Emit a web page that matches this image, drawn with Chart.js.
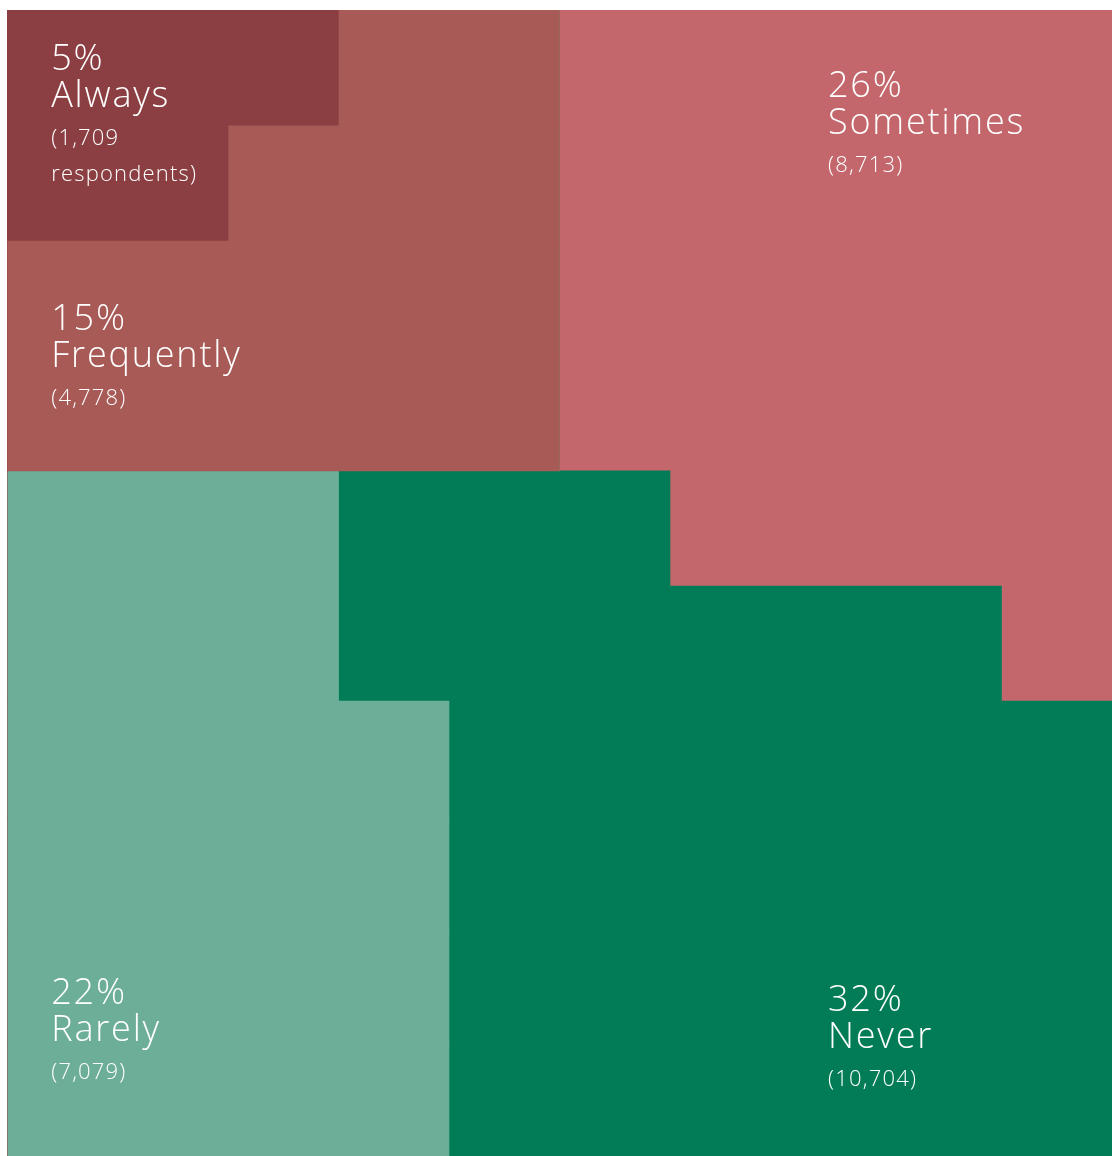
<!DOCTYPE html>
<html>
<head>
<meta charset="utf-8">
<script src="https://cdn.jsdelivr.net/npm/chart.js@4"></script>
<style>
  html, body { margin: 0; padding: 0; background: #ffffff; overflow: hidden; }
  #wrap { width: 1117px; height: 1170px; }
</style>
</head>
<body>
<div id="wrap"><canvas id="waffle"></canvas></div>
<script>
// 10 x 10 waffle: each row is one horizontal stacked bar, each unit = one cell
const rows = ['r1', 'r2', 'r3', 'r4', 'r5', 'r6', 'r7', 'r8', 'r9', 'r10'];

const categories = ['Always', 'Frequently', 'Rarely', 'Never', 'Sometimes'];
const percents = [5, 15, 22, 32, 26];
const respondents = [1709, 4778, 7079, 10704, 8713];

// cells per row for each answer (stack order left to right)
const alwaysCells     = [3, 2, 0, 0, 0, 0, 0, 0, 0, 0];
const frequentlyCells = [2, 3, 5, 5, 0, 0, 0, 0, 0, 0];
const rarelyCells     = [0, 0, 0, 0, 3, 3, 4, 4, 4, 4];
const neverCells      = [0, 0, 0, 0, 3, 6, 6, 6, 6, 6];
const sometimesCells  = [5, 5, 5, 5, 4, 1, 0, 0, 0, 0];

const cellData = [alwaysCells, frequentlyCells, rarelyCells, neverCells, sometimesCells];
const colors = ['#8b3f42', '#a85a56', '#6dae99', '#027c56', '#c4676c'];

// label anchors in cell units: [column, row of the percentage baseline]
const labelAnchors = [[0.4, 0.52], [0.4, 2.78], [0.4, 8.63], [7.43, 8.69], [7.43, 0.755]];

const FONT = '"Open Sans", Lato, sans-serif';

const labelPlugin = {
    id: 'cellLabels',
    afterDatasetsDraw(chart) {
        const { ctx, scales: { x }, chartArea } = chart;
        const rowH = (chartArea.bottom - chartArea.top) / rows.length;
        ctx.save();
        ctx.fillStyle = '#ffffff';
        ctx.textAlign = 'left';
        ctx.textBaseline = 'alphabetic';
        categories.forEach((name, i) => {
            const px = x.getPixelForValue(labelAnchors[i][0]);
            const py = chartArea.top + labelAnchors[i][1] * rowH;
            ctx.font = '300 36px ' + FONT;
            ctx.letterSpacing = '1.8px';
            ctx.fillText(percents[i] + '%', px, py);
            ctx.fillText(name, px, py + 37);
            ctx.font = '300 22px ' + FONT;
            ctx.letterSpacing = '1.2px';
            const count = respondents[i].toLocaleString('en-US');
            if (i === 0) {
                ctx.fillText('(' + count, px, py + 75);
                ctx.fillText('respondents)', px, py + 111);
            } else {
                ctx.fillText('(' + count + ')', px, py + 75);
            }
        });
        ctx.restore();
    }
};

new Chart(document.getElementById('waffle'), {
    type: 'bar',
    data: {
        labels: rows,
        datasets: categories.map((name, i) => ({
            label: name,
            data: cellData[i],
            backgroundColor: colors[i],
            borderWidth: 0,
            barPercentage: 1,
            categoryPercentage: 1
        }))
    },
    options: {
        indexAxis: 'y',
        responsive: true,
        maintainAspectRatio: false,
        animation: false,
        layout: { padding: { left: 7, right: 5, top: 10, bottom: 8 } },
        scales: {
            x: { stacked: true, min: 0, max: 10, display: false },
            y: { stacked: true, display: false }
        },
        plugins: {
            legend: { display: false },
            tooltip: { enabled: false }
        }
    },
    plugins: [labelPlugin]
});
</script>
</body>
</html>
